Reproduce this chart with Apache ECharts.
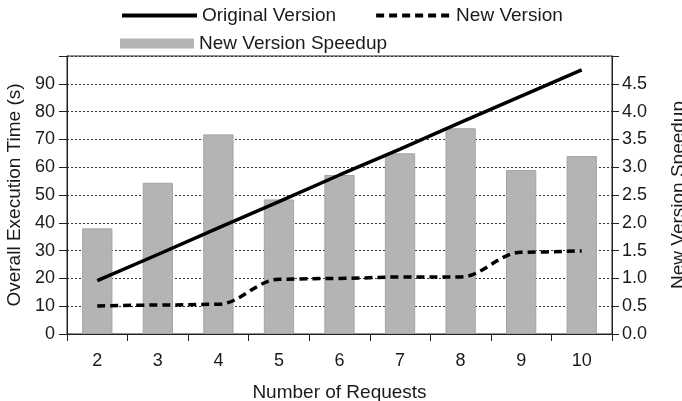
<!DOCTYPE html>
<html>
<head>
<meta charset="utf-8">
<script src="https://cdn.jsdelivr.net/npm/echarts@6/dist/echarts.min.js"></script>
<style>html,body{margin:0;padding:0;background:#fff}#c{width:682px;height:401px}</style>
</head>
<body>
<div id="c"></div>
<script>
const categories = ['2','3','4','5','6','7','8','9','10'];
const originalVersion = [19.2, 28.6, 38.2, 47.6, 57.2, 66.5, 76.1, 85.6, 95.0];
const newVersion = [10.1, 10.4, 10.7, 19.7, 20.0, 20.5, 20.5, 29.4, 29.9];
const speedup = [1.90, 2.72, 3.59, 2.42, 2.86, 3.25, 3.70, 2.95, 3.20];
const leftTicks = [0,10,20,30,40,50,60,70,80,90];
const rightTicks = ['0.0','0.5','1.0','1.5','2.0','2.5','3.0','3.5','4.0','4.5'];

const FONT = 'Liberation Sans';
const TXT = '#1a1a1a';
const AX = '#222';

const chart = echarts.init(document.getElementById('c'), null, {renderer:'canvas'});
chart.setOption({
  animation: false,
  backgroundColor: '#fff',
  textStyle: {fontFamily: FONT, color: TXT},
  legend: [
    {
      data: ['Original Version', 'New Version'],
      left: 115, top: 1,
      itemWidth: 75, itemHeight: 12, itemGap: 38,
      itemStyle: {opacity: 0},
      lineStyle: {width: 4},
      textStyle: {fontFamily: FONT, fontSize: 19, color: TXT}
    },
    {
      data: [{name: 'New Version Speedup', icon: 'rect'}],
      left: 115, top: 29,
      itemWidth: 74, itemHeight: 10,
      itemStyle: {borderWidth: 0},
      textStyle: {fontFamily: FONT, fontSize: 19, color: TXT}
    }
  ],
  grid: {
    left: 67, right: 70, top: 56, bottom: 67,
    outerBoundsMode: 'none',
    containLabel: false,
    show: true, borderColor: AX, borderWidth: 1, backgroundColor: 'transparent'
  },
  xAxis: {
    type: 'category',
    data: categories,
    boundaryGap: true,
    name: 'Number of Requests',
    nameLocation: 'middle',
    nameGap: 49,
    nameTextStyle: {fontSize: 19, color: TXT, fontFamily: FONT},
    axisLine: {lineStyle: {color: AX, width: 1}},
    axisTick: {show: true, length: 7, lineStyle: {color: AX}},
    axisLabel: {fontSize: 18, color: TXT, margin: 18, fontFamily: FONT},
    splitLine: {show: false}
  },
  yAxis: [
    {
      type: 'value',
      min: 0, max: 100, interval: 10,
      name: 'Overall Execution Time (s)',
      nameLocation: 'middle',
      nameGap: 43,
      nameTextStyle: {fontSize: 19, color: TXT, fontFamily: FONT},
      axisLine: {show: true, lineStyle: {color: AX, width: 1}},
      axisTick: {show: true, length: 8, lineStyle: {color: AX}},
      axisLabel: {
        fontSize: 18, color: TXT, margin: 12, fontFamily: FONT,
        formatter: function (v) { return leftTicks.indexOf(v) >= 0 ? String(v) : ''; }
      },
      splitLine: {show: true, lineStyle: {color: '#333', type: [2, 2], width: 1}}
    },
    {
      type: 'value',
      min: 0, max: 5, interval: 0.5,
      position: 'right',
      name: 'New Version Speedup',
      nameLocation: 'middle',
      nameGap: 57,
      nameRotate: 90,
      nameTextStyle: {fontSize: 19, color: TXT, fontFamily: FONT},
      axisLine: {show: true, lineStyle: {color: AX, width: 1}},
      axisTick: {show: true, length: 7, lineStyle: {color: AX}},
      axisLabel: {
        fontSize: 18, color: TXT, margin: 10, fontFamily: FONT,
        formatter: function (v) { const s = v.toFixed(1); return rightTicks.indexOf(s) >= 0 ? s : ''; }
      },
      splitLine: {show: false}
    }
  ],
  series: [
    {
      name: 'New Version Speedup',
      type: 'bar',
      yAxisIndex: 1,
      data: speedup,
      barWidth: '50%',
      itemStyle: {color: '#b3b4b3', borderColor: '#a3a4a3', borderWidth: 1},
      z: 2
    },
    {
      name: 'Original Version',
      type: 'line',
      yAxisIndex: 0,
      data: originalVersion,
      symbol: 'none',
      lineStyle: {color: '#000', width: 3.5},
      itemStyle: {color: '#000'},
      z: 5
    },
    {
      name: 'New Version',
      type: 'line',
      yAxisIndex: 0,
      data: newVersion,
      symbol: 'none',
      smooth: 0.35,
      smoothMonotone: 'x',
      lineStyle: {color: '#000', width: 3.5, type: [8, 5]},
      itemStyle: {color: '#000'},
      z: 5
    }
  ]
});
</script>
</body>
</html>
